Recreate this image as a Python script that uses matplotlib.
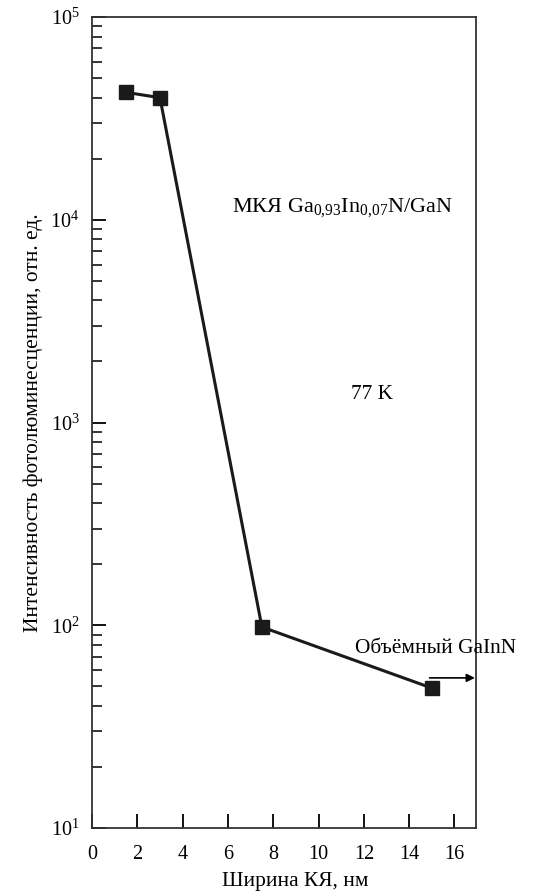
import matplotlib
matplotlib.use("Agg")
import matplotlib.pyplot as plt
from matplotlib.ticker import LogLocator

plt.rcParams['font.family'] = ['Liberation Serif', 'DejaVu Serif']
plt.rcParams['mathtext.fontset'] = 'custom'
plt.rcParams['mathtext.rm'] = 'Liberation Serif'
plt.rcParams['mathtext.it'] = 'Liberation Serif:italic'
plt.rcParams['mathtext.bf'] = 'Liberation Serif:bold'

# Data
width_nm = [1.5, 3.0, 7.5, 15.0]
intensity = [42500, 40000, 98, 49]
x_ticks = [0, 2, 4, 6, 8, 10, 12, 14, 16]
y_ticks = [1e1, 1e2, 1e3, 1e4, 1e5]
y_ticklabels = [r'$10^{1}$', r'$10^{2}$', r'$10^{3}$', r'$10^{4}$', r'$10^{5}$']
arrow_start = (14.9, 55)
arrow_end = (16.9, 55)

fig = plt.figure(figsize=(5.44, 8.94), dpi=100)
ax = fig.add_axes([92/544, 1-828/894, (476-92)/544, (828-17)/894])

ax.plot(width_nm, intensity, color='#1a1a1a', lw=2.2, marker='s', ms=9.5,
        mfc='#1a1a1a', mec='#1a1a1a')
ax.set_yscale('log')
ax.set_xlim(0, 16.95)
ax.set_ylim(10, 1e5)

ax.set_xticks(x_ticks)
ax.set_xticklabels([str(t) for t in x_ticks])
ax.set_yticks(y_ticks)
ax.set_yticklabels(y_ticklabels)
ax.yaxis.set_minor_locator(LogLocator(base=10, subs=range(2, 10)))
ax.yaxis.set_minor_formatter(plt.NullFormatter())

ax.tick_params(axis='both', which='major', direction='in', length=10, width=1.3,
               labelsize=14.5, top=False, right=False)
ax.tick_params(axis='x', which='major', pad=12)
ax.tick_params(axis='y', which='major', pad=9)
ax.tick_params(axis='y', which='minor', direction='in', length=7, width=1.1, right=False)
for s in ax.spines.values():
    s.set_linewidth(1.3)
    s.set_color('#333333')

ax.set_xlabel('Ширина КЯ, нм', fontsize=15.4, labelpad=7)
ax.xaxis.set_label_coords(0.53, -0.054)
ax.set_ylabel('Интенсивность фотолюминесценции, отн. ед.', fontsize=15.4, labelpad=5)

ax.text(0.365, 0.765, r'МКЯ Ga$_{0{,}93}$In$_{0{,}07}$N/GaN', transform=ax.transAxes,
        fontsize=16, ha='left', va='center')
ax.text(0.675, 0.535, '77 K', transform=ax.transAxes, fontsize=15.4, ha='left', va='center')
ax.text(11.6, 73, 'Объёмный GaInN', fontsize=15.4, ha='left', va='baseline', clip_on=False)

ax.annotate('', xy=arrow_end, xytext=arrow_start,
            arrowprops=dict(arrowstyle='-|>', color='black', lw=1.2,
                            mutation_scale=12, shrinkA=0, shrinkB=0),
            annotation_clip=False)

fig.savefig('out.png', dpi=100)
